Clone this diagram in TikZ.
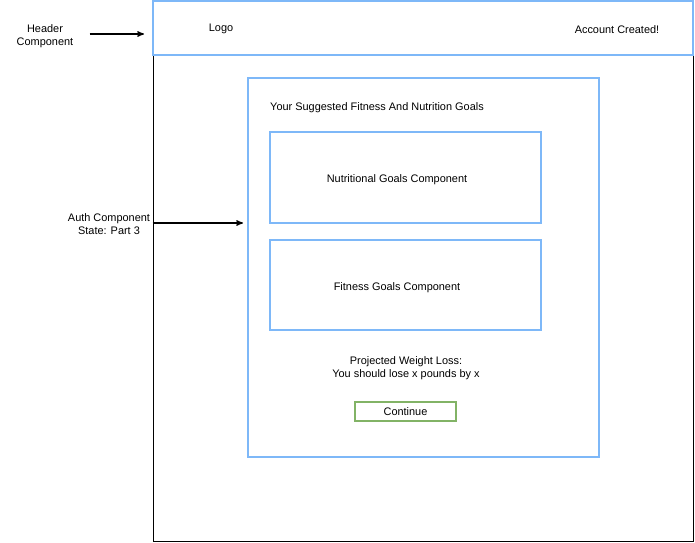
\documentclass[tikz,border=0pt]{standalone}
\usepackage{fontspec}
\setmainfont{Liberation Sans}
\usetikzlibrary{arrows}
\definecolor{wireblue}{HTML}{7EB8F8}
\definecolor{wiregreen}{HTML}{82B366}

\begin{document}
\begin{tikzpicture}[x=0.75pt,y=-0.75pt,>=stealth',
  font=\fontsize{8.2}{9.8}\selectfont,
  frame box/.style={draw=black,line width=0.75pt,inner sep=0pt},
  comp box/.style={draw=wireblue,line width=1.5pt,inner sep=0pt},
  btn box/.style={draw=wiregreen,line width=1.5pt,inner sep=0pt},
  note/.style={align=center,inner sep=1pt}]

\useasboundingbox (0,0) rectangle (695,542);

% page frame and header
\node[frame box,minimum width=405pt,minimum height=405pt] (frame) at (423,271) {};
\node[comp box,minimum width=405pt,minimum height=40.5pt] (header) at (423,28) {};
\node (logo) at (221,29) {Logo};
\node (created) at (617,30) {Account Created!};

% auth component
\node[comp box,minimum width=263.25pt,minimum height=284.25pt] (auth) at (423.5,267.5) {};
\node (title) at (377,108) {Your Suggested Fitness And Nutrition Goals};
\node[comp box,minimum width=203.25pt,minimum height=68.25pt] (nutri) at (405.5,177.5) {};
\node (nutrilbl) at (397,180) {Nutritional Goals Component};
\node[comp box,minimum width=203.25pt,minimum height=67.5pt] (fit) at (405.5,285) {};
\node (fitlbl) at (397,288) {Fitness Goals Component};
\node[note] (proj) at (406,368) {Projected Weight Loss:\\You should lose x pounds by x};
\node[btn box,minimum width=75.75pt,minimum height=14.25pt,text depth=0pt] (cont) at (405.5,411.5) {Continue};

% labels on the left
\node[note] (hdrlbl) at (45,36) {Header\\Component};
\node[note] (authlbl) at (109,224) {Auth Component\\State: Part 3};

\draw[->,line width=0.85pt,shorten <=11pt,shorten >=6pt] (hdrlbl.east) ++(0,-2) -- (header.west |- 0,34);
\draw[->,line width=0.85pt,shorten >=3pt] (frame.west |- 0,223) -- (auth.west |- 0,223);

\end{tikzpicture}
\end{document}
